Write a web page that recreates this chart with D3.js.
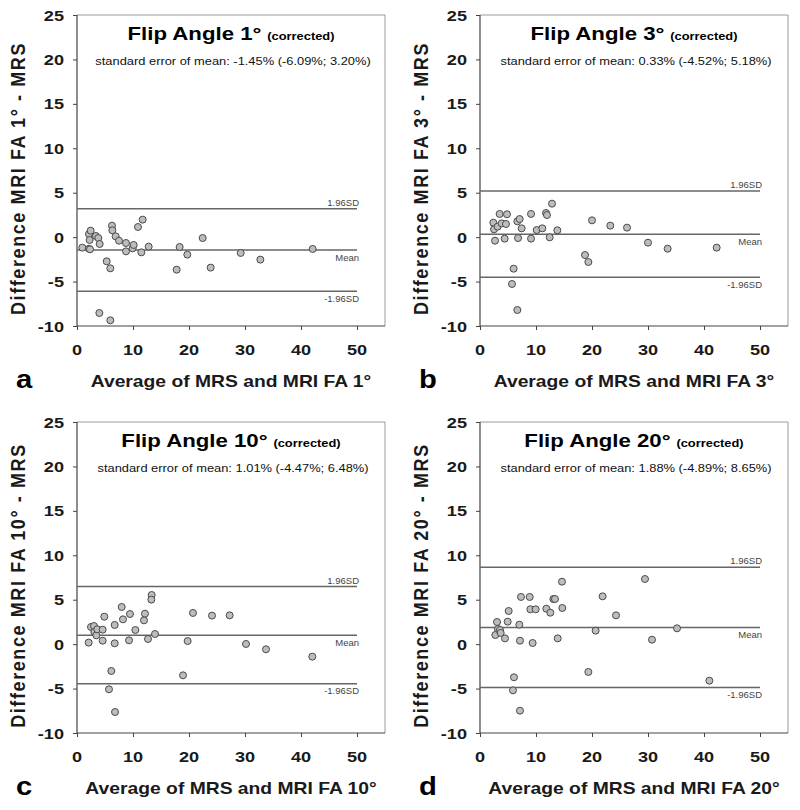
<!DOCTYPE html>
<html>
<head>
<meta charset="utf-8">
<script src="https://cdn.jsdelivr.net/npm/d3@7"></script>
<style>
  html, body { margin: 0; padding: 0; background: #fff; }
  svg { display: block; font-family: "Liberation Sans", Arial, sans-serif; }
</style>
</head>
<body>
<svg id="chart" width="800" height="810"></svg>
<script>
// ---------- data ----------
const panelLetters = ["a", "b", "c", "d"];
const flipAngles = [1, 3, 10, 20];
const meanDiff = [-1.45, 0.33, 1.01, 1.88];
const lowerLimit = [-6.09, -4.52, -4.47, -4.89];
const upperLimit = [3.20, 5.18, 6.48, 8.65];
const semTexts = [
  "standard error of mean: -1.45% (-6.09%; 3.20%)",
  "standard error of mean: 0.33% (-4.52%; 5.18%)",
  "standard error of mean: 1.01% (-4.47%; 6.48%)",
  "standard error of mean: 1.88% (-4.89%; 8.65%)"
];
const xTickValues = [0, 10, 20, 30, 40, 50];
const yTickValues = [-10, -5, 0, 5, 10, 15, 20, 25];
const xDomain = [0, 55];
const yDomain = [-10, 25];

const avgA = [0.95,2.14,2.32,2.14,2.44,2.26,3.39,3.81,4.05,5.30,5.95,6.25,6.31,6.90,7.50,3.99,5.95,8.75,8.75,9.94,10.12,10.89,11.73,11.49,12.80,17.80,18.33,19.70,22.44,23.87,29.23,32.74,42.08];
const diffA = [-1.18,-1.30,-1.37,0.35,0.73,-0.32,0.13,-0.10,-0.77,-2.72,-3.51,1.29,0.77,0.09,-0.40,-8.54,-9.36,-0.66,-1.60,-1.26,-0.88,1.14,1.97,-1.71,-1.07,-3.66,-1.11,-1.97,-0.10,-3.43,-1.78,-2.53,-1.33];

const avgB = [2.38,2.50,2.68,3.15,3.51,3.87,4.40,4.64,4.82,6.01,5.71,6.67,6.67,7.08,6.79,7.44,9.11,9.11,10.12,11.13,11.79,11.96,12.44,12.86,13.81,18.75,19.35,20.00,23.27,26.25,30.00,33.51,42.26];
const diffB = [1.63,0.88,-0.40,1.18,2.61,1.55,-0.17,1.48,2.57,-3.55,-5.27,-8.20,1.78,2.04,-0.10,0.99,2.61,-0.17,0.80,0.99,2.72,2.49,-0.02,3.77,0.77,-2.01,-2.80,1.89,1.29,1.07,-0.62,-1.30,-1.18];

const avgC = [2.08,2.50,3.04,3.10,3.45,3.63,4.58,4.58,4.88,6.13,5.71,6.79,6.73,6.73,7.98,8.21,9.29,9.46,10.42,11.96,12.14,12.68,13.33,13.27,13.93,18.93,19.76,20.71,24.11,27.26,30.18,33.75,42.02];
const diffC = [0.17,1.93,2.04,1.37,0.99,1.67,1.63,0.39,3.09,-3.02,-5.08,-7.64,2.16,0.09,4.18,2.79,0.43,3.39,1.59,2.68,3.43,0.58,5.53,5.01,1.14,-3.51,0.35,3.51,3.21,3.24,0.02,-0.58,-1.41];

const avgD = [2.74,3.04,3.21,3.57,3.69,4.46,4.94,5.12,6.07,5.89,7.14,7.02,7.14,7.32,8.87,8.99,9.40,9.94,11.85,12.56,13.10,13.39,13.87,14.64,14.70,19.35,20.65,21.90,24.29,29.46,30.71,35.18,40.95];
const diffD = [1.03,2.49,1.71,1.59,1.26,0.65,2.53,3.73,-3.73,-5.20,-7.49,2.19,0.39,5.31,5.31,3.92,0.13,3.92,3.99,3.54,5.08,5.08,0.65,7.03,4.07,-3.13,1.52,5.38,3.24,7.33,0.50,1.78,-4.11];

const avgSeries = [avgA, avgB, avgC, avgD];
const diffSeries = [diffA, diffB, diffC, diffD];

// ---------- layout ----------
const originsX = [77, 480, 77, 480];
const originsY = [15, 15, 422, 422];
const plotW = 308, plotH = 311;
const SX = 1.17; // horizontal glyph stretch of the original figure

const svg = d3.select("#chart");

function stretchedText(g, x, y, str, opts) {
  const t = g.append("text")
    .attr("transform", `translate(${x},${y}) scale(${opts.sx || SX},1)` + (opts.rotate ? ` rotate(${opts.rotate})` : ""))
    .attr("text-anchor", opts.anchor || "start")
    .attr("font-size", opts.size)
    .attr("font-weight", opts.weight || "normal")
    .attr("fill", opts.fill || "#111");
  if (opts.spacing) t.attr("letter-spacing", opts.spacing);
  t.text(str);
  return t;
}

panelLetters.forEach((letter, i) => {
  const g = svg.append("g").attr("transform", `translate(${originsX[i]},${originsY[i]})`);
  const x = d3.scaleLinear().domain(xDomain).range([0, plotW]);
  const y = d3.scaleLinear().domain(yDomain).range([plotH, 0]);

  // frame (top & right)
  g.append("path")
    .attr("d", `M0,0H${plotW}V${plotH}`)
    .attr("fill", "none").attr("stroke", "#9a9a9a").attr("stroke-width", 1);

  // axes
  const yAxis = d3.axisLeft(y).tickValues(yTickValues).tickSize(4).tickFormat("");
  const xAxis = d3.axisBottom(x).tickValues(xTickValues).tickSize(4).tickFormat("");
  const ya = g.append("g").call(yAxis);
  const xa = g.append("g").attr("transform", `translate(0,${plotH})`).call(xAxis);
  [ya, xa].forEach(a => {
    a.select(".domain").attr("stroke", "#444").attr("stroke-width", 1.2);
    a.selectAll(".tick line").attr("stroke", "#444");
  });
  ya.select(".domain").attr("d", `M0,${plotH}V0`);
  xa.select(".domain").attr("d", `M0,0H${plotW}`);

  // tick labels
  yTickValues.forEach(v => {
    stretchedText(g, -13, y(v) + 5.5, String(v), {size: 15.5, weight: "bold", anchor: "end", fill: "#1a1a1a"});
  });
  xTickValues.forEach(v => {
    stretchedText(g, x(v), plotH + 29, String(v), {size: 15.5, weight: "bold", anchor: "middle", fill: "#1a1a1a"});
  });

  // reference lines
  const refVals = [upperLimit[i], meanDiff[i], lowerLimit[i]];
  const refLabels = ["1.96SD", "Mean", "-1.96SD"];
  refVals.forEach((v, k) => {
    g.append("line")
      .attr("x1", x(0)).attr("x2", x(50))
      .attr("y1", y(v)).attr("y2", y(v))
      .attr("stroke", "#666").attr("stroke-width", 1.5);
    g.append("text")
      .attr("x", x(50) + 2)
      .attr("y", k === 0 ? y(v) - 3 : y(v) + 10.5)
      .attr("text-anchor", "end")
      .attr("font-size", 9.5)
      .attr("fill", "#444")
      .text(refLabels[k]);
  });

  // points
  const pts = d3.zip(avgSeries[i], diffSeries[i]);
  g.selectAll("circle.pt").data(pts).join("circle")
    .attr("class", "pt")
    .attr("cx", d => x(d[0]))
    .attr("cy", d => y(d[1]))
    .attr("r", 3.5)
    .attr("fill", "#bdbdbd")
    .attr("stroke", "#4a4a4a")
    .attr("stroke-width", 1);

  // title
  const title = stretchedText(g, plotW / 2, 25, "", {size: 19, weight: "bold", anchor: "middle", fill: "#000"});
  title.append("tspan").text(`Flip Angle ${flipAngles[i]}°`);
  title.append("tspan").attr("font-size", 11).attr("dx", 5).text("(corrected)");

  stretchedText(g, plotW / 2 + 2, 50, semTexts[i], {size: 11, anchor: "middle", fill: "#111"});

  // x axis label
  stretchedText(g, plotW / 2, plotH + 61, `Average of MRS and MRI FA ${flipAngles[i]}°`,
    {size: 16.5, weight: "bold", anchor: "middle", fill: "#1a1a1a"});

  // y axis label
  stretchedText(g, -52, plotH / 2 + 8, `Difference MRI FA ${flipAngles[i]}° - MRS`,
    {size: 18, weight: "bold", anchor: "middle", fill: "#1a1a1a", rotate: -90, spacing: 1.6});

  // panel letter
  stretchedText(g, -61, plotH + 62, letter, {size: 25, weight: "bold", anchor: "start", fill: "#000"});
});
</script>
</body>
</html>
